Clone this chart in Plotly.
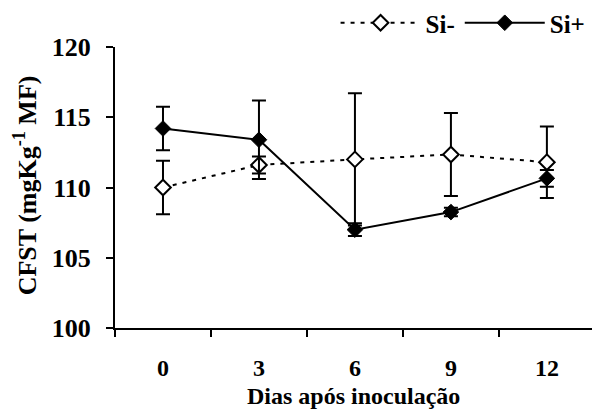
import plotly.graph_objects as go

days = ["0", "3", "6", "9", "12"]
si_minus = [110.0, 111.6, 112.0, 112.35, 111.8]
si_minus_err = [1.9, 0.6, 4.7, 2.95, 2.55]
si_plus = [114.2, 113.4, 107.0, 108.25, 110.65]
si_plus_err = [1.55, 2.8, 0.45, 0.3, 0.6]
y_ticks = [100, 105, 110, 115, 120]

FONT = "Liberation Serif"


def bf(size):
    return dict(family=FONT, size=size, color="black", weight="bold")


fig = go.Figure()
fig.add_trace(go.Scatter(
    x=days, y=si_minus, name="Si-", mode="lines+markers",
    line=dict(color="black", width=2, dash="4px,6px"),
    marker=dict(symbol="diamond", size=12, color="white", line=dict(color="black", width=2)),
    error_y=dict(type="data", array=si_minus_err, color="black", thickness=2, width=7),
))
fig.add_trace(go.Scatter(
    x=days, y=si_plus, name="Si+", mode="lines+markers",
    line=dict(color="black", width=2),
    marker=dict(symbol="diamond", size=12, color="black", line=dict(color="black", width=1)),
    error_y=dict(type="data", array=si_plus_err, color="black", thickness=2, width=7),
))

fig.update_layout(
    width=592, height=410,
    margin=dict(l=115, r=0, t=46, b=82),
    paper_bgcolor="white", plot_bgcolor="white",
    font=bf(25),
    legend=dict(orientation="h", x=0.997, xanchor="right", y=1.085, yanchor="middle",
                font=bf(25), itemwidth=80, bgcolor="rgba(0,0,0,0)"),
    annotations=[
        dict(text="Dias após inoculação", xref="paper", yref="paper",
             x=0.5, y=-0.243, xanchor="center", yanchor="middle", showarrow=False,
             font=bf(24)),
        dict(text="CFST (mgKg<sup>-1</sup> MF)", xref="paper", yref="paper",
             x=-0.187, y=0.507, xanchor="center", yanchor="middle", showarrow=False,
             textangle=-90, font=bf(26)),
    ],
)
fig.update_xaxes(
    type="category", range=[-0.5, 4.47], tickson="boundaries",
    showline=True, linecolor="black", linewidth=2,
    ticks="outside", ticklen=7, tickwidth=2, tickcolor="black",
    showgrid=False, zeroline=False, ticklabelstandoff=17,
    tickfont=bf(24),
)
fig.update_yaxes(
    range=[100, 120], tickvals=y_ticks,
    showline=True, linecolor="black", linewidth=2,
    ticks="outside", ticklen=7, tickwidth=2, tickcolor="black",
    showgrid=False, zeroline=False, ticklabelstandoff=10,
    tickfont=bf(26),
)

fig.write_html("out.html")
